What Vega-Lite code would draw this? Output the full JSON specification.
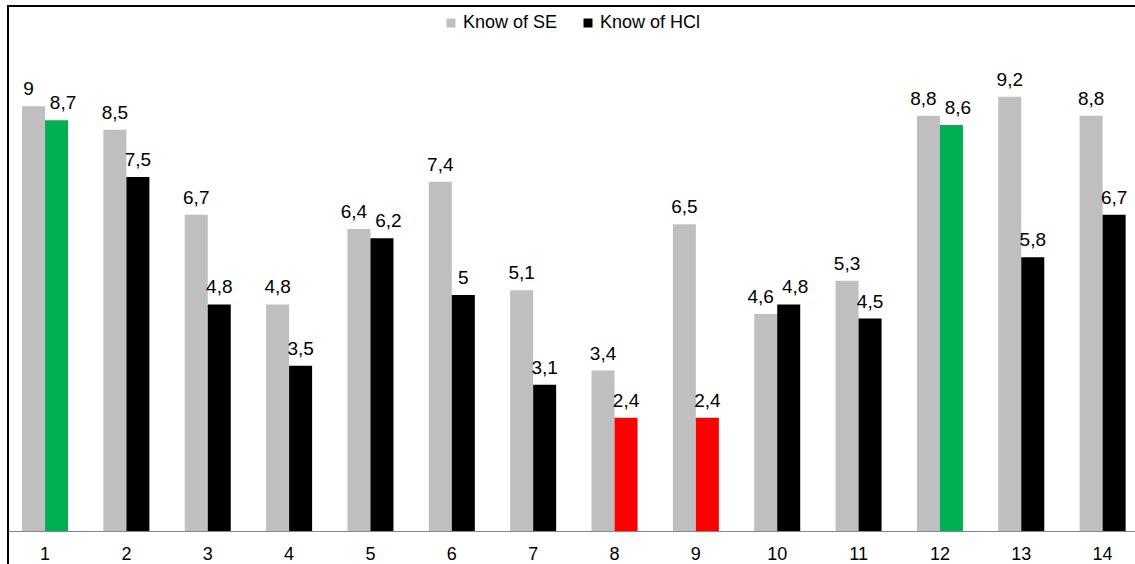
{
  "$schema": "https://vega.github.io/schema/vega-lite/v6.json",
  "width": 1127,
  "height": 558,
  "autosize": {"type": "none"},
  "padding": {"left": 8, "top": 6, "right": 0, "bottom": 0},
  "background": "white",
  "config": {
    "locale": {"number": {"decimal": ",", "thousands": ".", "grouping": [3], "currency": ["", " €"]}},
    "view": {"stroke": null},
    "font": "Liberation Sans"
  },
  "data": {
    "values": [
      {"group": "1", "series": "Know of SE", "value": 9},
      {"group": "1", "series": "Know of HCl", "value": 8.7},
      {"group": "2", "series": "Know of SE", "value": 8.5},
      {"group": "2", "series": "Know of HCl", "value": 7.5},
      {"group": "3", "series": "Know of SE", "value": 6.7},
      {"group": "3", "series": "Know of HCl", "value": 4.8},
      {"group": "4", "series": "Know of SE", "value": 4.8},
      {"group": "4", "series": "Know of HCl", "value": 3.5},
      {"group": "5", "series": "Know of SE", "value": 6.4},
      {"group": "5", "series": "Know of HCl", "value": 6.2},
      {"group": "6", "series": "Know of SE", "value": 7.4},
      {"group": "6", "series": "Know of HCl", "value": 5},
      {"group": "7", "series": "Know of SE", "value": 5.1},
      {"group": "7", "series": "Know of HCl", "value": 3.1},
      {"group": "8", "series": "Know of SE", "value": 3.4},
      {"group": "8", "series": "Know of HCl", "value": 2.4},
      {"group": "9", "series": "Know of SE", "value": 6.5},
      {"group": "9", "series": "Know of HCl", "value": 2.4},
      {"group": "10", "series": "Know of SE", "value": 4.6},
      {"group": "10", "series": "Know of HCl", "value": 4.8},
      {"group": "11", "series": "Know of SE", "value": 5.3},
      {"group": "11", "series": "Know of HCl", "value": 4.5},
      {"group": "12", "series": "Know of SE", "value": 8.8},
      {"group": "12", "series": "Know of HCl", "value": 8.6},
      {"group": "13", "series": "Know of SE", "value": 9.2},
      {"group": "13", "series": "Know of HCl", "value": 5.8},
      {"group": "14", "series": "Know of SE", "value": 8.8},
      {"group": "14", "series": "Know of HCl", "value": 6.7}
    ]
  },
  "transform": [
    {"joinaggregate": [{"op": "max", "field": "value", "as": "vmax"}, {"op": "min", "field": "value", "as": "vmin"}], "groupby": ["group"]}
  ],
  "layer": [
    {
      "mark": {"type": "bar"},
      "encoding": {
        "x": {
          "field": "group", "type": "ordinal", "sort": null,
          "scale": {"paddingInner": 0.4345, "paddingOuter": 0.144, "align": 0.6},
          "axis": {
            "orient": "bottom", "offset": -33, "title": null, "labelAngle": 0,
            "ticks": false, "tickSize": 0, "domainColor": "#868686", "domainWidth": 1,
            "labelFontSize": 18, "labelColor": "#000000", "labelPadding": 14, "labelFont": "Liberation Sans"
          }
        },
        "xOffset": {"field": "series", "type": "nominal", "sort": ["Know of SE", "Know of HCl"], "scale": {"paddingInner": 0, "paddingOuter": 0}},
        "y": {
          "field": "value", "type": "quantitative",
          "scale": {"domain": [-0.699, 11.123], "nice": false, "zero": false},
          "axis": {"orient": "left", "title": null, "labels": false, "ticks": false, "grid": false, "domainColor": "#000000", "domainWidth": 2, "translate": 0, "domainCap": "square"}
        },
        "y2": {"datum": 0},
        "color": {
          "field": "series", "type": "nominal",
          "scale": {"domain": ["Know of SE", "Know of HCl"], "range": ["#bfbfbf", "#000000"]},
          "legend": {
            "orient": "none", "legendX": 434, "legendY": 8, "direction": "horizontal", "title": null,
            "symbolType": "square", "symbolSize": 81, "symbolStrokeWidth": 0, "symbolOpacity": 1,
            "labelFontSize": 18, "labelColor": "#000000", "labelOffset": 3, "columnPadding": 21, "padding": 0, "labelFont": "Liberation Sans"
          },
          "condition": [
            {"test": "datum.series === 'Know of HCl' && datum.value >= 8.5", "value": "#00b050"},
            {"test": "datum.series === 'Know of HCl' && datum.value <= 2.4", "value": "#ff0000"}
          ]
        }
      }
    },
    {
      "transform": [{"filter": "datum.vmax - datum.vmin >= 0.5"}],
      "mark": {"type": "text", "baseline": "alphabetic", "align": "center", "dy": -11, "fontSize": 19, "color": "#000000", "font": "Liberation Sans"},
      "encoding": {
        "x": {
          "field": "group", "type": "ordinal", "sort": null,
          "axis": {"orient": "top", "title": null, "labels": false, "ticks": false, "domainColor": "#000000", "domainWidth": 2, "translate": 0, "domainCap": "square"}
        },
        "xOffset": {"field": "series", "type": "nominal", "sort": ["Know of SE", "Know of HCl"]},
        "y": {"field": "value", "type": "quantitative"},
        "text": {"field": "value", "type": "quantitative", "format": ".1~f"}
      }
    },
    {
      "transform": [{"filter": "datum.vmax - datum.vmin < 0.5 && datum.series === 'Know of SE'"}],
      "mark": {"type": "text", "baseline": "alphabetic", "align": "center", "dy": -11, "dx": -5, "fontSize": 19, "color": "#000000", "font": "Liberation Sans"},
      "encoding": {
        "x": {"field": "group", "type": "ordinal", "sort": null, "axis": null},
        "xOffset": {"field": "series", "type": "nominal", "sort": ["Know of SE", "Know of HCl"]},
        "y": {"field": "value", "type": "quantitative"},
        "text": {"field": "value", "type": "quantitative", "format": ".1~f"}
      }
    },
    {
      "transform": [{"filter": "datum.vmax - datum.vmin < 0.5 && datum.series === 'Know of HCl'"}],
      "mark": {"type": "text", "baseline": "alphabetic", "align": "center", "dy": -11, "dx": 6.5, "fontSize": 19, "color": "#000000", "font": "Liberation Sans"},
      "encoding": {
        "x": {"field": "group", "type": "ordinal", "sort": null, "axis": null},
        "xOffset": {"field": "series", "type": "nominal", "sort": ["Know of SE", "Know of HCl"]},
        "y": {"field": "value", "type": "quantitative"},
        "text": {"field": "value", "type": "quantitative", "format": ".1~f"}
      }
    }
  ],
  "resolve": {"axis": {"x": "independent"}}
}
